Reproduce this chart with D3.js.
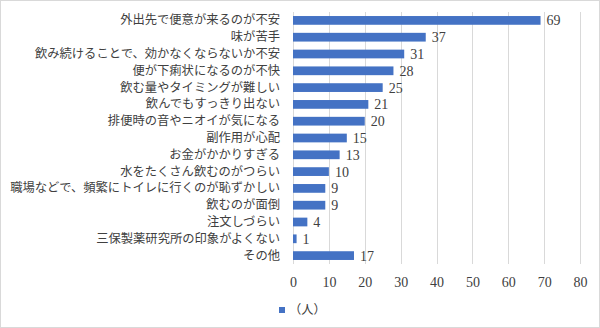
<!DOCTYPE html>
<html>
<head>
<meta charset="utf-8">
<script src="https://cdn.jsdelivr.net/npm/d3@7"></script>
<style>
  html, body { margin: 0; padding: 0; background: #fff; }
  svg { display: block; }
</style>
</head>
<body>
<svg id="chart" width="600" height="328"></svg>
<script>
// Reasons given (top to bottom) and number of respondents
const categories = [
  "外出先で便意が来るのが不安",
  "味が苦手",
  "飲み続けることで、効かなくならないか不安",
  "便が下痢状になるのが不快",
  "飲む量やタイミングが難しい",
  "飲んでもすっきり出ない",
  "排便時の音やニオイが気になる",
  "副作用が心配",
  "お金がかかりすぎる",
  "水をたくさん飲むのがつらい",
  "職場などで、頻繁にトイレに行くのが恥ずかしい",
  "飲むのが面倒",
  "注文しづらい",
  "三保製薬研究所の印象がよくない",
  "その他"
];
const counts = [69, 37, 31, 28, 25, 21, 20, 15, 13, 10, 9, 9, 4, 1, 17];
const xTicks = [0, 10, 20, 30, 40, 50, 60, 70, 80];
const seriesName = "（人）";

const svg = d3.select("#chart");
const W = 600, H = 328;
const plot = { left: 293, right: 580, top: 12, bottom: 264 };
const barColor = "#4472C4";
const gridColor = "#d9d9d9";
const jpFont = "'Noto Sans CJK JP', sans-serif";
const numFont = "'Liberation Serif', 'Times New Roman', serif";

// outer frame
svg.append("rect")
  .attr("x", 0.5).attr("y", 0.5)
  .attr("width", W - 1).attr("height", H - 1)
  .attr("fill", "#fff").attr("stroke", gridColor);

const x = d3.scaleLinear().domain([0, 80]).range([plot.left, plot.right]);
const y = d3.scaleBand().domain(categories).range([plot.top, plot.bottom]).paddingInner(0.48).paddingOuter(0.24);

// vertical gridlines
svg.append("g")
  .selectAll("line")
  .data(xTicks)
  .join("line")
  .attr("x1", d => Math.round(x(d)) + 0.5)
  .attr("x2", d => Math.round(x(d)) + 0.5)
  .attr("y1", plot.top)
  .attr("y2", plot.bottom)
  .attr("stroke", gridColor)
  .attr("stroke-width", 1);

// x-axis tick labels
const xAxis = d3.axisBottom(x).tickValues(xTicks).tickSize(0).tickPadding(0);
const gx = svg.append("g")
  .attr("transform", `translate(0, ${plot.bottom + 23})`)
  .call(xAxis);
gx.select(".domain").remove();
gx.selectAll("text")
  .attr("dy", 0)
  .attr("font-family", numFont)
  .attr("font-size", 14)
  .attr("fill", "#404040");

// category labels
const yAxis = d3.axisLeft(y).tickSize(0).tickPadding(13);
const gy = svg.append("g")
  .attr("transform", `translate(${plot.left}, 0)`)
  .call(yAxis);
gy.select(".domain").remove();
gy.selectAll("text")
  .attr("font-family", jpFont)
  .attr("font-size", 12.3)
  .attr("fill", "#404040");

// bars
svg.append("g")
  .selectAll("rect")
  .data(categories)
  .join("rect")
  .attr("x", x(0))
  .attr("y", d => y(d))
  .attr("width", (d, i) => x(counts[i]) - x(0))
  .attr("height", y.bandwidth())
  .attr("fill", barColor);

// value labels
svg.append("g")
  .selectAll("text")
  .data(categories)
  .join("text")
  .attr("x", (d, i) => x(counts[i]) + 6)
  .attr("y", d => y(d) + y.bandwidth() / 2)
  .attr("dy", "0.35em")
  .attr("font-family", numFont)
  .attr("font-size", 14)
  .attr("fill", "#404040")
  .text((d, i) => counts[i]);

// legend
const legend = svg.append("g").attr("transform", "translate(279, 310)");
legend.append("rect")
  .attr("x", 0).attr("y", -3)
  .attr("width", 6).attr("height", 6)
  .attr("fill", barColor);
legend.append("text")
  .attr("x", 10).attr("y", 0)
  .attr("dy", "0.35em")
  .attr("font-family", jpFont)
  .attr("font-size", 12.3)
  .attr("fill", "#404040")
  .text(seriesName);
</script>
</body>
</html>
